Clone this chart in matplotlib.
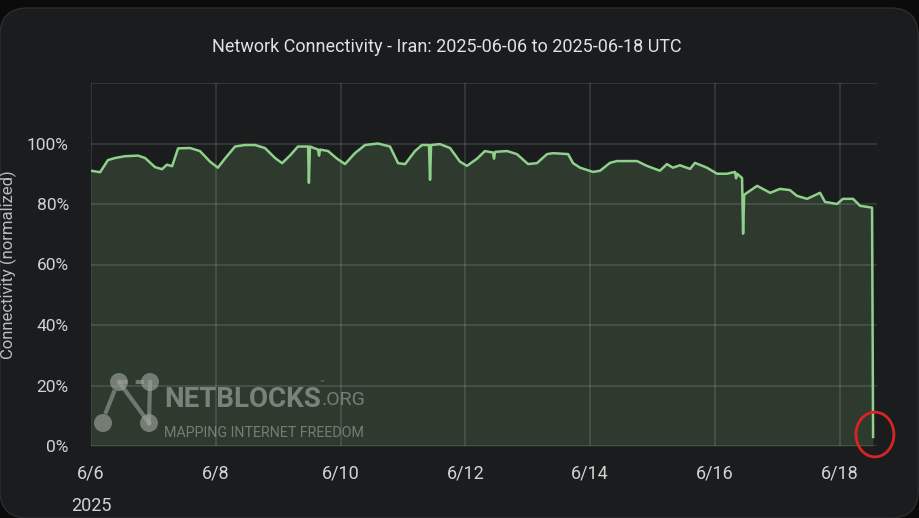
import matplotlib
matplotlib.use("Agg")
import matplotlib.pyplot as plt
from matplotlib.patches import Ellipse, FancyBboxPatch
from matplotlib.lines import Line2D

# ---- data (hours since 2025-06-06 00:00 UTC, normalized connectivity %) ----
hours = [0, 3.5, 6.5, 9.2, 13.1, 18.1, 20.8, 24.6, 27.3, 29.2, 31.2, 33.5, 38.1, 41.9,
         45.8, 48.8, 51.5, 55.4, 59.2, 63.1, 66.9, 70.8, 73.5, 76.5, 79.6, 83.5, 83.8,
         84.2, 87.3, 87.7, 88.1, 91.2, 94.6, 97.7, 101.5, 105.4, 110.4, 115.0, 118.1,
         120.8, 124.6, 127.3, 130.0, 130.4, 130.8, 134.2, 138.1, 141.9, 144.6, 148.5,
         151.5, 154.6, 155.0, 155.4, 156.5, 160.0, 163.8, 168.1, 171.5, 175.4, 177.7,
         183.5, 185.4, 188.1, 193.1, 195.8, 199.6, 202.3, 210.0, 213.8, 218.8, 221.5,
         223.8, 226.5, 230.4, 232.3, 236.9, 240.8, 244.6, 247.7, 248.1, 248.5, 250.4,
         250.8, 251.2, 252.3, 256.2, 261.2, 265.0, 268.8, 271.5, 275.4, 280.4, 282.3,
         286.9, 289.2, 293.1, 295.8, 300.4, 300.8]
connectivity = [91, 90.5, 94.5, 95.2, 95.8, 96, 95.2, 92.2, 91.5, 93, 92.5, 98.4, 98.5, 97.5,
                94, 92, 95, 99, 99.5, 99.5, 98.5, 95.2, 93.5, 96, 99, 99, 87,
                99, 98, 96, 98, 97.5, 95, 93.2, 96.8, 99.5, 100, 99, 93.5,
                93.2, 97.5, 99.5, 99.5, 88, 99.5, 99.8, 98.5, 94, 92.6, 95,
                97.5, 97, 95, 97.2, 97.3, 97.5, 96.5, 93.2, 93.5, 96.5, 96.8,
                96.5, 93.5, 92, 90.6, 91, 93.6, 94.2, 94.2, 92.6, 91, 93.2,
                92, 92.8, 91.6, 93.6, 92, 90, 90, 90.6, 88.5, 90, 88.6,
                70.2, 83, 83.7, 86, 83.7, 85, 84.6, 82.7, 81.7, 83.7, 80.7,
                80, 81.7, 81.7, 79.4, 78.8, 3]

tick_hours = [0, 48, 96, 144, 192, 240, 288]
tick_labels = ["6/6\n2025", "6/8", "6/10", "6/12", "6/14", "6/16", "6/18"]
y_ticks = [0, 20, 40, 60, 80, 100, 120]
y_labels = ["0%", "20%", "40%", "60%", "80%", "100%", ""]

title = "Network Connectivity - Iran: 2025-06-06 to 2025-06-18 UTC"

# ---- style ----
W, H = 920, 518
BG = "#1a1c1e"
FILL = "#2f3a2f"
LINE = "#8fd08a"
GRID = "#ffffff"
TXT = "#d2d2d2"
FONT = ["Roboto", "DejaVu Sans"]

fig = plt.figure(figsize=(W / 100, H / 100), dpi=100)
fig.patch.set_facecolor("#0b0b0c")
panel = FancyBboxPatch((0, 0), 1.0 - 0.002, 1 - 8 / H, transform=fig.transFigure,
                       boxstyle="round,pad=0,rounding_size=0.03",
                       facecolor=BG, edgecolor="#2a2c2e", linewidth=1.0,
                       mutation_aspect=W / H, zorder=-10)
fig.patches.append(panel)

ax = fig.add_axes([91 / W, 1 - 446 / H, (877 - 91) / W, (446 - 83) / H])
ax.set_facecolor("none")
ax.fill_between(hours, connectivity, 0, color=FILL, linewidth=0, zorder=1)
ax.plot(hours, connectivity, color=LINE, linewidth=1.8, zorder=3,
        solid_joinstyle="round")

ax.set_xlim(0, 302.3)
ax.set_ylim(0, 120)
ax.set_xticks(tick_hours)
ax.set_xticklabels(tick_labels, fontsize=13, color=TXT, family=FONT, linespacing=2.1)
ax.set_yticks(y_ticks)
ax.set_yticklabels(y_labels, fontsize=12.5, color=TXT, family=FONT)
ax.tick_params(axis="x", length=0, pad=13)
ax.tick_params(axis="y", length=0, pad=16)
ax.grid(True, color=GRID, alpha=0.13, linewidth=1.2, zorder=2)
ax.set_axisbelow(False)
for s in ax.spines.values():
    s.set_visible(False)

fig.text(447 / W, 1 - 47 / H, title, ha="center", va="center", fontsize=13,
         color="#e2e2e2", family=FONT)
fig.text(8 / W, 1 - 265 / H, "Connectivity (normalized)", rotation=90,
         ha="center", va="center", fontsize=12, color="#bdbdbd", family=FONT)

# ---- watermark ----
WM = "#9aa199"
def fx(x):
    return x / W
def fy(y):
    return 1 - y / H
nodes = [(119, 382), (150, 382), (103, 423), (149, 423)]
for (a, b), (c, d) in [((119, 382), (149, 423)), ((150, 382), (149, 423))]:
    fig.add_artist(Line2D([fx(a), fx(c)], [fy(b), fy(d)], color=WM, alpha=0.6,
                          linewidth=3, zorder=4))
fig.add_artist(Line2D([fx(119), fx(150)], [fy(382), fy(382)], color=WM, alpha=0.6,
                      linewidth=3, linestyle=(0, (2, 2)), zorder=4))
fig.add_artist(Line2D([fx(114), fx(106)], [fy(392), fy(412)], color=WM, alpha=0.6,
                      linewidth=3, zorder=4))
for (a, b) in nodes:
    fig.add_artist(Ellipse((fx(a), fy(b)), 18 / W, 18 / H, transform=fig.transFigure,
                           facecolor=WM, edgecolor="none", alpha=0.65, zorder=4))
fig.text(fx(164), fy(407), "NETBLOCKS", fontsize=20, fontweight="bold",
         family=FONT, color=WM, alpha=0.7, ha="left", va="baseline")
fig.text(fx(320), fy(384), "™", fontsize=5, color=WM, alpha=0.7, ha="left",
         va="baseline", family=FONT)
fig.text(fx(322), fy(405), ".ORG", fontsize=14, family=FONT,
         color=WM, alpha=0.65, ha="left", va="baseline")
fig.text(fx(164), fy(437), "MAPPING INTERNET FREEDOM", fontsize=10.3, family=FONT,
         color=WM, alpha=0.65, ha="left", va="baseline")

# ---- red circle around the final drop ----
ax.add_patch(Ellipse((hours[-1] + 0.7, connectivity[-1] + 0.8), 14.6, 14.8,
                     facecolor="none", edgecolor="#d82424", linewidth=2.0,
                     clip_on=False, zorder=5))

fig.savefig("out.png", dpi=100, facecolor=fig.get_facecolor())
